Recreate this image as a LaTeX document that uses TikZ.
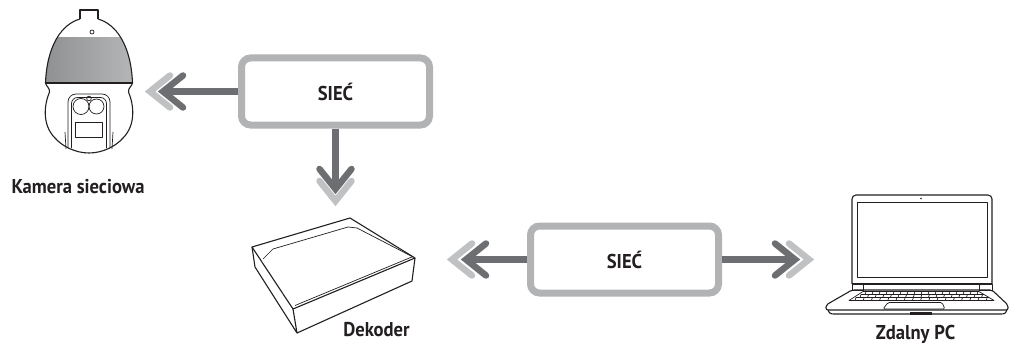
\documentclass[tikz,border=0pt]{standalone}
\usepackage{fontspec}
\setmainfont{PT Sans}[FakeStretch=0.93]
\usetikzlibrary{calc}
\definecolor{boxgray}{HTML}{B1B3B5}
\definecolor{arrowdark}{HTML}{6D6E71}
\definecolor{arrowlight}{HTML}{C0C1C3}
\definecolor{ink}{HTML}{231F20}
\definecolor{domeA}{HTML}{8E9092}
\definecolor{domeB}{HTML}{CDCED0}
\definecolor{domeC}{HTML}{B4B6B8}
\begin{document}
\begin{tikzpicture}[x=1pt,y=-1pt,
  netbox/.style={draw=boxgray, line width=7pt, rounded corners=9pt, fill=white,
    minimum width=188pt, minimum height=67pt, inner sep=0pt,
    font=\fontsize{20}{20}\selectfont\bfseries, text=ink},
  devlabel/.style={anchor=base, inner sep=0pt, font=\fontsize{20}{20}\selectfont\bfseries, text=ink},
  shaft/.style={draw=arrowdark, line width=7.5pt},
  chevdark/.style={draw=arrowdark, line width=6.5pt, line cap=round, line join=miter},
  chevlight/.style={draw=arrowlight, line width=6.5pt, line cap=round, line join=miter},
  outline/.style={draw=ink, line width=1.1pt, line join=round},
  thinline/.style={draw=ink, line width=0.7pt, line join=round},
]
\useasboundingbox (0,0) rectangle (1010,345);

% ---------- network boxes ----------
\node[netbox] (sietop) at (335.5,91.5) {SIEĆ};
\node[netbox] (siebot) at (624.5,259.5) {SIEĆ};

% ---------- arrow end points ----------
\coordinate (camTip) at (163,91.5);
\coordinate (camTipB) at (150,91.5);
\coordinate (decTip) at (335.5,189);
\coordinate (decTipB) at (335.5,201);
\coordinate (decSideTip) at (466,259.5);
\coordinate (decSideTipB) at (452,259.5);
\coordinate (pcTip) at (795,259.5);
\coordinate (pcTipB) at (809,259.5);

% light chevrons behind
\draw[chevlight] (camTipB) ++(20,-16) -- (camTipB) -- ++(20,16);
\draw[chevlight] (decTipB) ++(-16,-20) -- (decTipB) -- ++(16,-20);
\draw[chevlight] (decSideTipB) ++(20,-16) -- (decSideTipB) -- ++(20,16);
\draw[chevlight] (pcTipB) ++(-20,-16) -- (pcTipB) -- ++(-20,16);

% shafts
\draw[shaft] (sietop.west) -- ($(camTip)+(3,0)$);
\draw[shaft] (sietop.south) -- ($(decTip)+(0,-3)$);
\draw[shaft] (siebot.west) -- ($(decSideTip)+(3,0)$);
\draw[shaft] (siebot.east) -- ($(pcTip)+(-3,0)$);

% dark chevrons
\draw[chevdark] (camTip) ++(20,-16) -- (camTip) -- ++(20,16);
\draw[chevdark] (decTip) ++(-16,-20) -- (decTip) -- ++(16,-20);
\draw[chevdark] (decSideTip) ++(20,-16) -- (decSideTip) -- ++(20,16);
\draw[chevdark] (pcTip) ++(-20,-16) -- (pcTip) -- ++(-20,16);

% ---------- network camera ----------
\begin{scope}
  \clip (80,19) .. controls (62,24) and (47,45) .. (45.5,83) -- (132.5,83)
        .. controls (131,45) and (116,24) .. (98,19) -- cycle;
  \shade[left color=domeA, middle color=domeB, right color=domeC] (44,38) rectangle (134,83);
\end{scope}
\draw[outline] (80,19) -- (80,10) -- (98,10) -- (98,19);
\draw[outline] (80,19) .. controls (62,24) and (47,45) .. (45.5,83)
  .. controls (46,86) and (50,88) .. (49.5,92)
  .. controls (44,105) and (42,125) .. (55,138)
  .. controls (62,146) and (75,153) .. (89,153)
  .. controls (103,153) and (116,146) .. (123,138)
  .. controls (136,125) and (134,105) .. (128.5,92)
  .. controls (128,88) and (132,86) .. (132.5,83)
  .. controls (131,45) and (116,24) .. (98,19);
\draw[outline] (45.5,83) -- (132.5,83);
\draw[thinline] (92,32) circle (2);
\draw[thinline, rounded corners=8pt] (68,148) -- (68,94) -- (110,94) -- (110,148);
\draw[thinline, rounded corners=6pt] (71.5,148) -- (71.5,97.5) -- (106.5,97.5) -- (106.5,148);
\draw[thinline] (81,106.5) circle (8);
\draw[thinline] (96.5,106.5) circle (7.5);
\draw[thinline] (89,98.5) circle (2.3);
\draw[thinline] (75,122) rectangle (102,137);
\draw[thinline] (65,132) -- (66,149);
\draw[thinline] (113,132) -- (112,149);
\node[devlabel] (camlabel) at (78,193) {Kamera sieciowa};

% ---------- decoder ----------
\draw[outline, fill=white] (252,247) -- (350,218) -- (415,258) -- (293,309) -- cycle;
\draw[outline] (252,247) -- (255,267) -- (297,333) -- (293,309);
\draw[outline] (297,333) -- (412,281) -- (415,258);
\draw[thinline] (263,259) -- (273,249) -- (348,227) -- (357,228) -- (413,257);
\draw[thinline] (295,305.5) -- (413,256.5);
\node[devlabel] (declabel) at (376.5,336) {Dekoder};

% ---------- laptop ----------
\draw[outline, rounded corners=4pt] (852,284) -- (852,195) -- (992,195) -- (992,284);
\draw[outline] (852,284) -- (992,284);
\draw[thinline] (857,202) rectangle (987,277);
\fill[ink] (921,198.5) circle (0.9);
\draw[thinline] (852,284) rectangle (863,290);
\draw[thinline] (979,284) rectangle (992,290);
\draw[outline, rounded corners=2pt] (852,290) -- (826,305) -- (826,310) -- (1008,310)
  -- (1008,305) -- (992,290) -- cycle;
\draw[outline] (828,310) .. controls (830,314) .. (836,314) -- (999,314)
  .. controls (1005,314) .. (1007,310);
% keyboard
\draw[thinline] (863,291.5) -- (979,291.5) -- (994,300.5) -- (849,300.5) -- cycle;
\draw[thinline] (860.5,294.5) -- (984,294.5);
\draw[thinline] (855.5,297.5) -- (989,297.5);
\foreach \i in {0,...,16} {
  \draw[thinline] (866+7*\i,291.5) -- (865+7*\i,294.5);
  \draw[thinline] (861+7.6*\i,294.5) -- (860+7.6*\i,297.5);
  \draw[thinline] (856+8.2*\i,297.5) -- (855+8.2*\i,300.5);
}
\draw[thinline, rounded corners=1.5pt] (888,302.5) -- (942,302.5) -- (945,309) -- (883,309) -- cycle;
\fill[ink] (910,311.5) rectangle (932,314.5);
\node[devlabel] (pclabel) at (915.5,339.5) {Zdalny PC};
\end{tikzpicture}
\end{document}
